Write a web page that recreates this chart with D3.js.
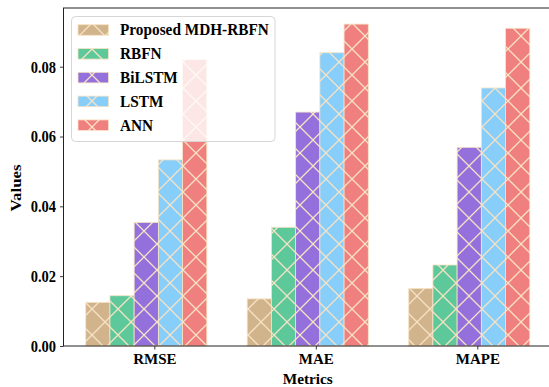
<!DOCTYPE html>
<html>
<head>
<meta charset="utf-8">
<script src="https://cdn.jsdelivr.net/npm/d3@7"></script>
<style>
  html, body { margin: 0; padding: 0; background: #fff; }
  svg { display: block; }
  text { font-family: "Liberation Serif", "Times New Roman", serif; font-weight: bold; fill: #000; }
</style>
</head>
<body>
<svg id="chart" width="549" height="387"></svg>
<script>
// Error metrics per model
const metrics = ["RMSE", "MAE", "MAPE"];
const models = ["Proposed MDH-RBFN", "RBFN", "BiLSTM", "LSTM", "ANN"];
const colors = ["#d2b48c", "#5dc99b", "#9370db", "#87cefa", "#f08080"];
const valMDHRBFN = [0.0125, 0.0135, 0.0165];
const valRBFN    = [0.0144, 0.0340, 0.0232];
const valBiLSTM  = [0.0354, 0.0670, 0.0569];
const valLSTM    = [0.0533, 0.0840, 0.0739];
const valANN     = [0.0820, 0.0922, 0.0910];
const yTicks = [0.00, 0.02, 0.04, 0.06, 0.08];

const series = [valMDHRBFN, valRBFN, valBiLSTM, valLSTM, valANN];
const barW = 0.15;

const svg = d3.select("#chart");
const plot = { left: 63.5, right: 552, top: 8, bottom: 346 };

// bar i of group c is centred at c - 0.35 + i*barW
const xMin = -0.35 - barW / 2, xMax = 2 - 0.35 + 4 * barW + barW / 2;
const pad = (xMax - xMin) * 0.05;
const x = d3.scaleLinear().domain([xMin - pad, xMax + pad]).range([plot.left, plot.right]);
const yMaxData = d3.max(series.flat());
const y = d3.scaleLinear().domain([0, yMaxData * 1.05]).range([plot.bottom, plot.top]);

// cross-hatch pattern shared by every bar
const hatchCol = "#f7e3c4";
const P = 26;
const defs = svg.append("defs");
colors.forEach((c, i) => {
  const pat = defs.append("pattern")
    .attr("id", "hatch" + i)
    .attr("patternUnits", "userSpaceOnUse")
    .attr("x", 1).attr("y", 10)
    .attr("width", P).attr("height", P);
  pat.append("rect").attr("width", P).attr("height", P).attr("fill", c);
  pat.append("path")
    .attr("d", `M-2,-2L${P + 2},${P + 2}M-2,${P + 2}L${P + 2},-2`)
    .attr("stroke", hatchCol).attr("stroke-width", 1.3).attr("fill", "none");
});

// bars
series.forEach((vals, i) => {
  svg.append("g").selectAll("rect")
    .data(vals)
    .join("rect")
    .attr("x", (d, c) => x(c - 0.35 + i * barW - barW / 2))
    .attr("width", x(barW) - x(0))
    .attr("y", d => y(d))
    .attr("height", d => y(0) - y(d))
    .attr("fill", `url(#hatch${i})`)
    .attr("stroke", hatchCol)
    .attr("stroke-width", 0.8);
});

// axes
const yAxis = d3.axisLeft(y).tickValues(yTicks).tickFormat(d3.format(".2f")).tickSize(3.5).tickPadding(4);
const xAxis = d3.axisBottom(x).tickValues([0, 1, 2]).tickFormat(i => metrics[i]).tickSize(3.5).tickPadding(4);

const gy = svg.append("g").attr("transform", `translate(${plot.left},0)`).call(yAxis);
const gx = svg.append("g").attr("transform", `translate(0,${plot.bottom})`).call(xAxis);
[gx, gy].forEach(g => {
  g.select(".domain").remove();
  g.selectAll(".tick line").attr("stroke", "#222").attr("stroke-width", 0.9);
  g.selectAll(".tick text").attr("font-size", 14.5).attr("fill", "#000")
    .attr("font-family", "Liberation Serif, serif").attr("font-weight", "bold");
});
gy.selectAll(".tick text").attr("transform", "scale(1,1.15)");
gx.selectAll(".tick text").attr("font-size", 15);

// spines
svg.append("rect")
  .attr("x", plot.left).attr("y", plot.top)
  .attr("width", plot.right - plot.left).attr("height", plot.bottom - plot.top)
  .attr("fill", "none").attr("stroke", "#222").attr("stroke-width", 1);

// axis titles
svg.append("text")
  .attr("x", (plot.left + plot.right) / 2).attr("y", 383.5)
  .attr("text-anchor", "middle").attr("font-size", 15.3).text("Metrics");
svg.append("text")
  .attr("transform", `translate(21,188) rotate(-90) scale(1.12,1)`)
  .attr("text-anchor", "middle").attr("font-size", 15).text("Values");

// legend
const lg = svg.append("g");
lg.append("rect")
  .attr("x", 71.5).attr("y", 16.5).attr("width", 203.5).attr("height", 125)
  .attr("rx", 4).attr("fill", "#fff").attr("fill-opacity", 0.8)
  .attr("stroke", "#d6d6d6").attr("stroke-width", 1);
models.forEach((m, i) => {
  const cy = 30 + i * 23.8;
  lg.append("rect")
    .attr("x", 78).attr("y", cy - 5.3).attr("width", 30.5).attr("height", 10.6)
    .attr("fill", `url(#hatch${i})`).attr("stroke", hatchCol).attr("stroke-width", 0.8);
  lg.append("text")
    .attr("transform", `translate(120,${cy + 5.3}) scale(1,1.1)`)
    .attr("font-size", 15.3).text(m);
});
</script>
</body>
</html>
